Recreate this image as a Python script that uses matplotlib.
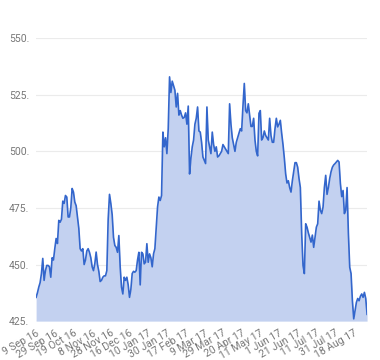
import matplotlib
matplotlib.use("Agg")
import matplotlib.pyplot as plt

# price series, one value per trading day
prices = [
    435.5, 437.5, 440, 442, 446, 452.7, 443, 447.3, 449.6, 449.6,
    449, 444.4, 453, 452, 457, 461.5, 459.3, 469.5, 468.7, 470,
    478, 477, 480.5, 479.8, 471, 471, 475, 483.6, 482, 477.6,
    476, 471, 466, 457, 456, 457, 450, 452, 456, 457,
    455.4, 453, 449, 447.3, 450.4, 455.5, 450, 447, 442.5, 443,
    444.4, 445, 445, 447.3, 470, 481, 477, 472, 462, 458.4,
    457.6, 455.4, 462.8, 449, 440, 437, 444.4, 443, 444.4, 441,
    435.5, 439, 446, 447, 446.6, 447.3, 452, 455.4, 441, 455.4,
    454.7, 450.3, 451, 459.2, 451, 454.7, 453, 449, 454.7, 457,
    466.5, 475.4, 479.8, 478.3, 480.5, 508.5, 502, 506, 499, 510,
    532.9, 526, 531, 529, 527, 519.6, 525.6, 516, 518, 516,
    514.6, 515, 517, 512, 520, 490, 497, 502, 505, 512,
    514.6, 519.6, 509, 508.5, 504, 497.5, 496, 494.6, 519.6, 505,
    502, 499, 508.5, 503, 500, 502, 497.5, 498, 499, 500,
    503, 502, 501, 500, 499, 521, 512, 506, 503, 500,
    504, 506, 508, 510, 509, 520, 530, 518, 517, 521,
    516, 511, 511, 514.6, 505, 500, 498, 516.8, 518, 505,
    506, 509, 507, 506, 505, 514.6, 507, 504, 504, 510,
    514.6, 510.8, 512, 513.7, 508, 503, 497, 490, 486, 487,
    484, 482, 487, 491, 495, 495, 493, 488, 484, 463.7,
    449.6, 446, 468, 466.5, 464, 462, 459.9, 463, 457.6, 462,
    466.5, 468, 478, 474, 472.5, 475.4, 484, 489.4, 481, 484,
    488, 491, 493, 494, 494.6, 495.3, 496, 495.3, 485.8, 480,
    482.7, 472.5, 474, 484, 463.7, 448.8, 446, 434, 426, 429.6,
    433.3, 435, 434, 436, 437, 435.5, 437.7, 435, 428,
]

tick_labels = [
    "9 Sep 16", "29 Sep 16", "19 Oct 16", "8 Nov 16", "28 Nov 16",
    "16 Dec 16", "10 Jan 17", "30 Jan 17", "17 Feb 17", "9 Mar 17",
    "29 Mar 17", "20 Apr 17", "11 May 17", "1 Jun 17", "21 Jun 17",
    "11 Jul 17", "31 Jul 17", "18 Aug 17",
]
tick_step = 14
y_ticks = [425, 450, 475, 500, 525, 550]

plt.rcParams["font.family"] = ["Roboto", "DejaVu Sans"]

fig = plt.figure(figsize=(3.8, 3.6), dpi=100)
ax = fig.add_axes([0.095, 0.108, 0.871, 0.786])

xs = list(range(len(prices)))
ax.fill_between(xs, prices, 425, color="#c3d1f0", linewidth=0)
ax.plot(xs, prices, color="#3366cc", linewidth=1.2)

ax.set_xlim(0, len(prices) - 1)
ax.set_ylim(425, 550)

ax.set_yticks(y_ticks)
ax.set_yticklabels([f"{v}." for v in y_ticks], fontsize=7.5, color="#777777")
ax.set_xticks([i * tick_step for i in range(len(tick_labels))])
ax.set_xticklabels(tick_labels, rotation=30, ha="right", rotation_mode="anchor",
                   fontsize=7.5, color="#777777")

ax.tick_params(length=0, pad=5)
ax.grid(axis="y", color="#ebebeb", linewidth=0.8)
ax.set_axisbelow(True)
for s in ax.spines.values():
    s.set_visible(False)

fig.savefig("out.png", dpi=100)
